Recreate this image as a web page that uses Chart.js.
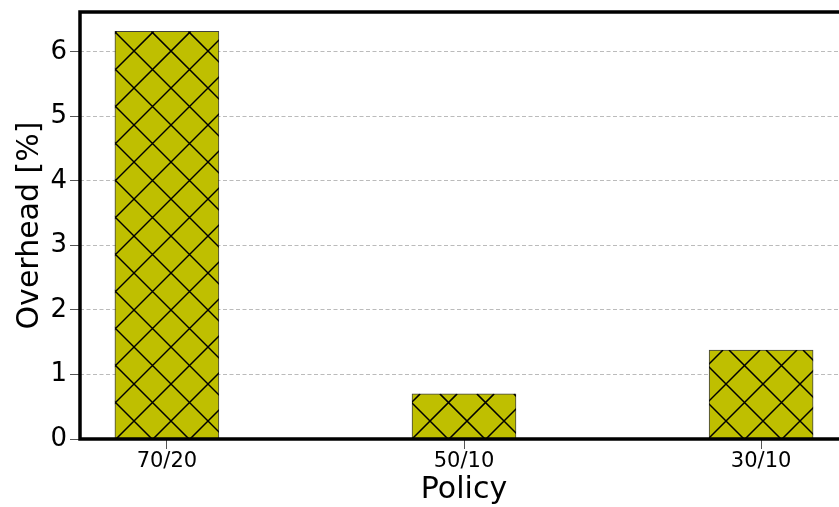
<!DOCTYPE html>
<html>
<head>
<meta charset="utf-8">
<script src="https://cdn.jsdelivr.net/npm/chart.js@4/dist/chart.umd.min.js"></script>
<style>
  html, body { margin: 0; padding: 0; background: #fff; overflow: hidden; }
  #wrap { width: 839px; height: 507px; overflow: hidden; }
</style>
</head>
<body>
<div id="wrap"><canvas id="overheadChart" width="852" height="507"></canvas></div>
<script>
// Overhead per policy
const policies = ["70/20", "50/10", "30/10"];
const overhead = [6.32, 0.70, 1.38];
const yTicks = [0, 1, 2, 3, 4, 5, 6];

const FONT = "'DejaVu Sans', sans-serif";

// crosshatch ('x') drawn on top of each bar
const hatchPlugin = {
  id: "hatch",
  afterDatasetsDraw(chart) {
    const c = chart.ctx;
    const step = 37;
    const a0 = 83;
    const b0 = 185;
    chart.getDatasetMeta(0).data.forEach((bar) => {
      const p = bar.getProps(["x", "y", "base", "width"], true);
      const left = p.x - p.width / 2;
      const right = p.x + p.width / 2;
      const top = Math.min(p.y, p.base);
      const bottom = Math.max(p.y, p.base);
      c.save();
      c.beginPath();
      c.rect(left, top, right - left, bottom - top);
      c.clip();
      c.strokeStyle = "#000";
      c.lineWidth = 1.5;
      c.beginPath();
      // lines x - y = a0 + k*step
      for (let k = Math.floor((left - bottom - a0) / step) - 1; a0 + k * step <= right - top + step; k++) {
        const d = a0 + k * step;
        c.moveTo(top + d, top);
        c.lineTo(bottom + d, bottom);
      }
      // lines x + y = b0 + k*step
      for (let k = Math.floor((left + top - b0) / step) - 1; b0 + k * step <= right + bottom + step; k++) {
        const s = b0 + k * step;
        c.moveTo(s - top, top);
        c.lineTo(s - bottom, bottom);
      }
      c.stroke();
      c.restore();
    });
  },
};

// thick axes frame
const framePlugin = {
  id: "frame",
  afterDraw(chart) {
    const a = chart.chartArea;
    const c = chart.ctx;
    c.save();
    c.strokeStyle = "#000";
    c.lineWidth = 3.5;
    c.strokeRect(a.left, a.top, a.right - a.left, a.bottom - a.top);
    c.restore();
  },
};

new Chart(document.getElementById("overheadChart"), {
  type: "bar",
  data: {
    datasets: [
      {
        data: overhead.map((v, i) => ({ x: i, y: v })),
        backgroundColor: "#bfbf00",
        borderColor: "rgba(0,0,0,0.75)",
        borderWidth: 1,
        barThickness: 104,
      },
    ],
  },
  options: {
    responsive: false,
    animation: false,
    layout: { padding: { top: 12, right: 4, left: 0, bottom: 0 } },
    plugins: {
      legend: { display: false },
      tooltip: { enabled: false },
    },
    scales: {
      x: {
        type: "linear",
        offset: false,
        min: -0.2925,
        max: 2.2925,
        afterBuildTicks: (scale) => {
          scale.ticks = policies.map((_, i) => ({ value: i }));
        },
        afterFit: (scale) => {
          scale.height = 68;
          scale.paddingLeft = 0;
          scale.paddingRight = 0;
        },
        ticks: {
          callback: (v) => policies[v],
          color: "#000",
          font: { family: FONT, size: 21 },
          padding: 0,
          maxRotation: 0,
        },
        grid: {
          offset: false,
          drawOnChartArea: false,
          drawTicks: true,
          tickLength: 10,
          tickColor: "#555",
        },
        border: { display: false },
        title: {
          display: true,
          text: "Policy",
          color: "#000",
          font: { family: FONT, size: 30 },
          padding: { top: 0, bottom: -1 },
        },
      },
      y: {
        min: 0,
        max: 6.62,
        z: 1,
        afterBuildTicks: (scale) => {
          scale.ticks = yTicks.map((v) => ({ value: v }));
        },
        afterFit: (scale) => {
          scale.width = 80;
          scale.paddingTop = 0;
          scale.paddingBottom = 0;
        },
        ticks: {
          color: "#000",
          font: { family: FONT, size: 26 },
          padding: 3,
        },
        grid: {
          color: "#bbbbbb",
          lineWidth: 1,
          tickLength: 10,
          tickColor: "#555",
        },
        border: { display: false, dash: [4, 2.5] },
        title: {
          display: true,
          text: "Overhead [%]",
          color: "#000",
          font: { family: FONT, size: 30 },
          padding: { top: 12, bottom: 0 },
        },
      },
    },
  },
  plugins: [hatchPlugin, framePlugin],
});
</script>
</body>
</html>
